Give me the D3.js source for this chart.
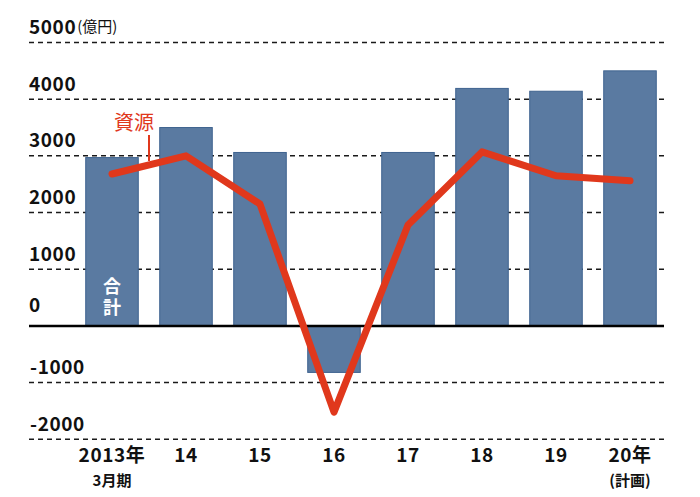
<!DOCTYPE html>
<html><head><meta charset="utf-8">
<script src="https://cdn.jsdelivr.net/npm/d3@7"></script>
<style>
html,body{margin:0;padding:0;background:#fff;}
svg{display:block;}
.num{font-family:"Liberation Sans Narrow","Noto Sans CJK JP",sans-serif;font-weight:bold;}
.jp{font-family:"Noto Sans CJK JP",sans-serif;}
</style>
</head><body>
<svg id="chart" width="700" height="497"></svg>
<script>
const categories = ["2013","14","15","16","17","18","19","20"];
const xLabelLine1 = ["2013年","14","15","16","17","18","19","20年"];
const xLabelLine2 = ["3月期","","","","","","","(計画)"];
const totalValues = [2970,3500,3060,-820,3060,4190,4140,4500];
const resourceValues = [2680,3000,2150,-1520,1780,3070,2650,2560];
const yTicks = [-2000,-1000,0,1000,2000,3000,4000,5000];
const unitLabel = "(億円)";
const seriesLabel = "資源";
const barLabel = "合計";

const svg = d3.select("#chart");
const x = d3.scaleBand().domain(categories).range([75,667]).paddingInner(0.29).paddingOuter(0.145);
const y = d3.scaleLinear().domain([-2000,5000]).range([439.3,42.5]);
const gridX0 = 29, gridX1 = 664;

// gridlines
svg.append("g").selectAll("line").data(yTicks.filter(d=>d!==0)).join("line")
  .attr("x1",gridX0).attr("x2",gridX1)
  .attr("y1",d=>y(d)).attr("y2",d=>y(d))
  .attr("stroke","#1a1a1a").attr("stroke-width",1.5).attr("stroke-dasharray","5,4");

// y labels
const yl = svg.append("g").selectAll("text").data(yTicks).join("text")
  .attr("class","num")
  .attr("x",d=>d<0?30:29)
  .attr("y",d=>y(d)-(d===0?14:8.5))
  .attr("font-size",19).attr("letter-spacing",0.6).attr("fill","#111")
  .text(d=>String(d));
let topEnd = 67;
yl.each(function(d){ if(d===5000){ const b=this.getBBox(); topEnd=b.x+b.width; } });
svg.append("text").attr("class","jp").attr("x",topEnd+1).attr("y",y(5000)-11)
  .attr("font-size",15).attr("fill","#111").text(unitLabel);

// bars
svg.append("g").selectAll("rect").data(totalValues).join("rect")
  .attr("x",(d,i)=>x(categories[i]))
  .attr("width",x.bandwidth())
  .attr("y",d=>y(Math.max(0,d)))
  .attr("height",d=>Math.abs(y(d)-y(0)))
  .attr("fill","#5a7aa1").attr("stroke","#3f638f").attr("stroke-width",1);

// zero line
svg.append("line").attr("x1",gridX0).attr("x2",gridX1).attr("y1",y(0)).attr("y2",y(0))
  .attr("stroke","#000").attr("stroke-width",2.5);

// vertical bar label inside first bar
const cx0 = x(categories[0]) + x.bandwidth()/2;
svg.append("text").attr("class","jp").attr("font-weight","bold")
  .attr("x",cx0).attr("y",277)
  .style("writing-mode","vertical-rl").attr("letter-spacing",3)
  .attr("font-size",18).attr("fill","#fff").text(barLabel);

// resource line
const line = d3.line().x((d,i)=>x(categories[i])+x.bandwidth()/2).y(d=>y(d));
svg.append("path").datum(resourceValues).attr("d",line)
  .attr("fill","none").attr("stroke","#e0381c").attr("stroke-width",7)
  .attr("stroke-linejoin","round").attr("stroke-linecap","round");

// series label + leader
svg.append("text").attr("class","jp").attr("x",134).attr("y",130)
  .attr("text-anchor","middle").attr("font-size",20).attr("fill","#e0381c").text(seriesLabel);
svg.append("line").attr("x1",149).attr("x2",149).attr("y1",135).attr("y2",161)
  .attr("stroke","#e0381c").attr("stroke-width",2);

// x labels
const xl = svg.append("g");
xl.selectAll("text.l1").data(xLabelLine1).join("text").attr("class","num l1")
  .attr("x",(d,i)=>x(categories[i])+x.bandwidth()/2).attr("y",462)
  .attr("text-anchor","middle").attr("font-size",19).attr("letter-spacing",0.6).attr("fill","#111").text(d=>d);
xl.selectAll("text.l2").data(xLabelLine2).join("text").attr("class","num l2")
  .attr("x",(d,i)=>x(categories[i])+x.bandwidth()/2).attr("y",485.5)
  .attr("text-anchor","middle").attr("font-size",15).attr("fill","#111").text(d=>d);
</script>
</body></html>
